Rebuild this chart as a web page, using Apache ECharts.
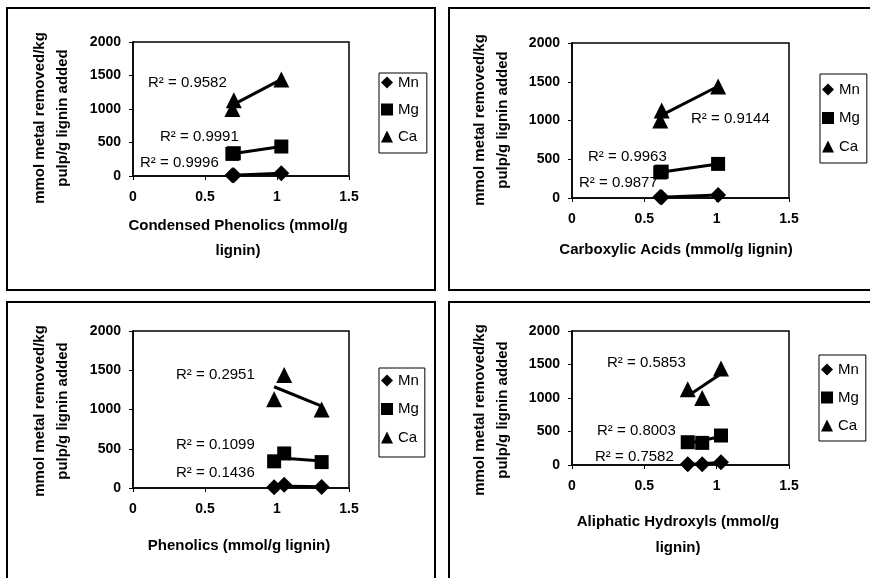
<!DOCTYPE html>
<html><head><meta charset="utf-8">
<script src="https://cdn.jsdelivr.net/npm/echarts@6/dist/echarts.min.js"></script>
<style>html,body{margin:0;padding:0;background:#fff}#c{width:870px;height:578px}</style>
</head><body><div id="c"></div>
<script>
// ---- data ----
const metals = ['Mn', 'Mg', 'Ca'];
const metalSymbols = ['diamond', 'rect', 'triangle'];
// three lignin samples (A, B, C)
const mnRemoved = [10, 40, 12];
const mgRemoved = [340, 440, 330];
const caRemoved = [1130, 1440, 1000];
const condensedPhenolics = [0.70, 1.03, 0.69];
const carboxylicAcids = [0.62, 1.01, 0.61];
const phenolics = [0.98, 1.05, 1.31];
const aliphaticHydroxyls = [0.80, 1.03, 0.90];
const xTicks = [0, 0.5, 1, 1.5];
const yTicks = [0, 500, 1000, 1500, 2000];
// R² labels: Mn, Mg, Ca
const r2Condensed = ['R² = 0.9996', 'R² = 0.9991', 'R² = 0.9582'];
const r2Carboxylic = ['R² = 0.9877', 'R² = 0.9963', 'R² = 0.9144'];
const r2Phenolics = ['R² = 0.1436', 'R² = 0.1099', 'R² = 0.2951'];
const r2Aliphatic = ['R² = 0.7582', 'R² = 0.8003', 'R² = 0.5853'];
const yTitle = 'mmol metal removed/kg\npulp/g lignin added';
const xTitles = ['Condensed Phenolics (mmol/g\nlignin)', 'Carboxylic Acids (mmol/g lignin)',
                 'Phenolics (mmol/g lignin)', 'Aliphatic Hydroxyls (mmol/g\nlignin)'];

// ---- layout ----
const panels = [
  { x: condensedPhenolics, r2: r2Condensed, frame: [7, 8, 428, 282],
    grid: [133, 42, 216, 134], legend: [379, 73, [2, 8, 9, 2], 12],
    yT: [51.5, 118], xT: [238, 238, 25], r2Pos: [[140, 163], [160, 137], [148, 83]] },
  { x: carboxylicAcids, r2: r2Carboxylic, frame: [449, 8, 440, 282],
    grid: [572, 43, 217, 155], legend: [820, 74, [8, 7, 9, 2], 13.5],
    yT: [491, 120], xT: [676, 250, 25], r2Pos: [[579, 183], [588, 157], [691, 119]] },
  { x: phenolics, r2: r2Phenolics, frame: [7, 302, 428, 300],
    grid: [133, 331, 216, 157], legend: [379, 368, [5, 6, 12, 2], 13.5],
    yT: [51.5, 411], xT: [239, 546, 25], r2Pos: [[176, 473], [176, 445], [176, 375]] },
  { x: aliphaticHydroxyls, r2: r2Aliphatic, frame: [449, 302, 440, 300],
    grid: [572, 331, 217, 134], legend: [819, 355, [7, 7, 8, 2], 13],
    yT: [491, 410], xT: [678, 535, 26], r2Pos: [[595, 457], [597, 431], [607, 363]] }
];
const metalValues = [mnRemoved, mgRemoved, caRemoved];

function regress(xs, ys) {
  const n = xs.length;
  const mx = xs.reduce((a, b) => a + b, 0) / n, my = ys.reduce((a, b) => a + b, 0) / n;
  let sxy = 0, sxx = 0;
  for (let i = 0; i < n; i++) { sxy += (xs[i] - mx) * (ys[i] - my); sxx += (xs[i] - mx) ** 2; }
  const b = sxy / sxx, a = my - b * mx;
  const x0 = Math.min(...xs), x1 = Math.max(...xs);
  return [[x0, a + b * x0], [x1, a + b * x1]];
}

const FONT = 'Arial, "Liberation Sans", sans-serif';
const grid = [], xAxis = [], yAxis = [], series = [], legend = [], graphic = [];
panels.forEach((p, i) => {
  grid.push({ left: p.grid[0], top: p.grid[1], width: p.grid[2], height: p.grid[3],
    show: true, borderColor: '#000', borderWidth: 1.5, containLabel: false });
  xAxis.push({ type: 'value', gridIndex: i, min: xTicks[0], max: xTicks[xTicks.length - 1],
    interval: xTicks[1] - xTicks[0],
    axisLine: { show: true, onZero: false, lineStyle: { color: '#000', width: 1.5 } },
    axisTick: { show: true, inside: false, length: 4, lineStyle: { color: '#000', width: 1 } },
    splitLine: { show: false },
    axisLabel: { color: '#000', fontFamily: FONT, fontSize: 14, fontWeight: 'bold', margin: 14,
      formatter: v => String(v) } });
  yAxis.push({ type: 'value', gridIndex: i, min: yTicks[0], max: yTicks[yTicks.length - 1],
    interval: yTicks[1] - yTicks[0],
    axisLine: { show: true, lineStyle: { color: '#000', width: 1.5 } },
    axisTick: { show: true, inside: false, length: 4, lineStyle: { color: '#000', width: 1 } },
    splitLine: { show: false },
    axisLabel: { color: '#000', fontFamily: FONT, fontSize: 14, fontWeight: 'bold', margin: 12,
      formatter: v => String(v) } });
  metals.forEach((m, k) => {
    const vals = metalValues[k];
    series.push({ type: 'line', name: m + ' trend', xAxisIndex: i, yAxisIndex: i,
      data: regress(p.x, vals), symbol: 'none', silent: true, z: 2,
      lineStyle: { color: '#000', width: 3, opacity: 1 }, animation: false });
    series.push({ type: 'scatter', name: m, xAxisIndex: i, yAxisIndex: i,
      data: p.x.map((v, j) => [v, vals[j]]), symbol: metalSymbols[k],
      symbolSize: k === 1 ? 14 : 16, itemStyle: { color: '#000', opacity: 1 }, z: 3, animation: false });
  });
  legend.push({ orient: 'vertical', left: p.legend[0], top: p.legend[1], padding: p.legend[2],
    itemGap: p.legend[3], itemWidth: 12, itemHeight: 12, borderColor: '#000', borderWidth: 1,
    backgroundColor: '#fff', selectedMode: false,
    textStyle: { color: '#000', fontFamily: FONT, fontSize: 15 },
    data: metals.map((m, k) => ({ name: m, icon: metalSymbols[k], itemStyle: { color: '#000', opacity: 1 } })) });
  graphic.push({ type: 'rect', shape: { x: p.frame[0], y: p.frame[1], width: p.frame[2], height: p.frame[3] },
    style: { fill: 'none', stroke: '#000', lineWidth: 2 }, z: 0, silent: true });
  graphic.push({ type: 'text', x: p.yT[0], y: p.yT[1], rotation: Math.PI / 2,
    style: { text: yTitle, font: 'bold 15px ' + FONT, fill: '#000', lineHeight: 23,
      align: 'center', verticalAlign: 'middle', textAlign: 'center', textVerticalAlign: 'middle' } });
  graphic.push({ type: 'text', x: p.xT[0], y: p.xT[1],
    style: { text: xTitles[i], font: 'bold 15px ' + FONT, fill: '#000', lineHeight: p.xT[2],
      align: 'center', verticalAlign: 'middle', textAlign: 'center', textVerticalAlign: 'middle' } });
  p.r2.forEach((t, k) => {
    graphic.push({ type: 'text', x: p.r2Pos[k][0], y: p.r2Pos[k][1], z: 1,
      style: { text: t, font: '15px ' + FONT, fill: '#000',
        align: 'left', verticalAlign: 'middle', textAlign: 'left', textVerticalAlign: 'middle' } });
  });
});

const chart = echarts.init(document.getElementById('c'), null, { renderer: 'canvas' });
chart.setOption({ animation: false, backgroundColor: '#fff', grid, xAxis, yAxis, series, legend, graphic });
</script></body></html>
